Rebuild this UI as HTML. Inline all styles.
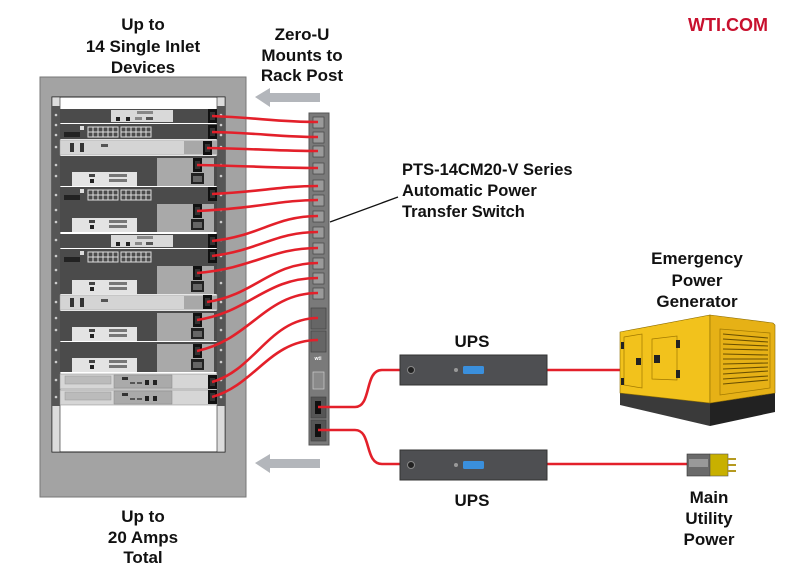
<!DOCTYPE html>
<html><head><meta charset="utf-8"><style>
html,body{margin:0;padding:0;background:#fff;width:800px;height:578px;overflow:hidden}
svg text{font-family:"Liberation Sans",Arial,sans-serif;font-weight:bold;fill:#111}
</style></head><body>
<svg width="800" height="578" viewBox="0 0 800 578" xmlns="http://www.w3.org/2000/svg">
<defs>
<g id="outs"><rect x="-4" y="-7" width="9" height="14" fill="#111"/><rect x="-2" y="-4" width="5" height="8" fill="#333"/></g>
<g id="dA"><rect x="60" y="0" width="157" height="14" fill="#4b4b4b"/><rect x="111" y="1" width="62" height="12" fill="#d9d9d9"/><rect x="116" y="8" width="4" height="4" fill="#222"/><rect x="126" y="8" width="4" height="4" fill="#222"/><rect x="135" y="8" width="7" height="3" fill="#888"/><rect x="146" y="8" width="7" height="3" fill="#555"/><rect x="137" y="2" width="16" height="3" fill="#888"/></g>
<g id="dS"><rect x="60" y="0" width="157" height="15" fill="#4b4b4b"/><rect x="64" y="8" width="16" height="5" fill="#222"/><rect x="80" y="2" width="4" height="4" fill="#ddd"/><g fill="none" stroke="#ddd" stroke-width="1"><rect x="88" y="3" width="30" height="10"/><rect x="121" y="3" width="30" height="10"/><path d="M88 8H118M121 8H151M93 3V13M98 3V13M103 3V13M108 3V13M113 3V13M126 3V13M131 3V13M136 3V13M141 3V13M146 3V13"/></g></g>
<g id="dL"><rect x="60" y="0" width="157" height="15" fill="#d4d4d4" stroke="#999" stroke-width="0.5"/><rect x="184" y="1" width="33" height="13" fill="#a8a8a8"/><rect x="70" y="3" width="4" height="9" fill="#333"/><rect x="80" y="3" width="4" height="9" fill="#333"/><rect x="101" y="4" width="7" height="3" fill="#555"/></g>
<g id="dD"><rect x="60" y="0" width="157" height="30" fill="#4b4b4b"/><rect x="157" y="2" width="57" height="28" fill="#a9a9a9"/><rect x="72" y="16" width="65" height="14" fill="#e3e3e3"/><rect x="89" y="18" width="6" height="3" fill="#444"/><rect x="90" y="23" width="4" height="4" fill="#222"/><rect x="109" y="18" width="18" height="3" fill="#777"/><rect x="109" y="23" width="18" height="3" fill="#777"/><rect x="191" y="17" width="13" height="11" fill="#222"/><rect x="193" y="20" width="9" height="6" fill="#666"/></g>
<g id="dG"><rect x="60" y="0" width="157" height="15" fill="#d6d6d6" stroke="#888" stroke-width="0.5"/><rect x="65" y="2" width="46" height="8" fill="#bbb" stroke="#999" stroke-width="0.5"/><rect x="114" y="1" width="58" height="13" fill="#aaa" stroke="#888" stroke-width="0.5"/><rect x="122" y="3" width="6" height="3" fill="#333"/><rect x="130" y="8" width="5" height="2" fill="#555"/><rect x="137" y="8" width="5" height="2" fill="#555"/><rect x="145" y="6" width="4" height="5" fill="#222"/><rect x="153" y="6" width="4" height="5" fill="#222"/></g>
</defs>

<text x="143" y="30" font-size="17" text-anchor="middle">Up to</text>
<text x="143" y="52" font-size="17" text-anchor="middle">14 Single Inlet</text>
<text x="143" y="73" font-size="17" text-anchor="middle">Devices</text>
<text x="302" y="40" font-size="17" text-anchor="middle">Zero-U</text>
<text x="302" y="61" font-size="17" text-anchor="middle">Mounts to</text>
<text x="302" y="81" font-size="17" text-anchor="middle">Rack Post</text>
<text x="728" y="31" font-size="18" text-anchor="middle" style="fill:#c8102e">WTI.COM</text>

<!-- rack -->
<rect x="40" y="77" width="206" height="420" fill="#a3a3a3" stroke="#777"/>
<rect x="52" y="97" width="173" height="355" fill="#fff" stroke="#222"/>
<rect x="52" y="97" width="8" height="355" fill="#dcdcdc" stroke="#222" stroke-width="0.6"/>
<rect x="217" y="97" width="8" height="355" fill="#dcdcdc" stroke="#222" stroke-width="0.6"/>
<rect x="52" y="106" width="8" height="300" fill="#555"/>
<rect x="217" y="106" width="8" height="300" fill="#555"/>
<g fill="#ccc"><circle cx="56" cy="115" r="1.3"/><circle cx="56" cy="125" r="1.3"/><circle cx="56" cy="135" r="1.3"/><circle cx="56" cy="147" r="1.3"/><circle cx="56" cy="165" r="1.3"/><circle cx="56" cy="176" r="1.3"/><circle cx="56" cy="195" r="1.3"/><circle cx="56" cy="210" r="1.3"/><circle cx="56" cy="222" r="1.3"/><circle cx="56" cy="240" r="1.3"/><circle cx="56" cy="256" r="1.3"/><circle cx="56" cy="270" r="1.3"/><circle cx="56" cy="283" r="1.3"/><circle cx="56" cy="302" r="1.3"/><circle cx="56" cy="318" r="1.3"/><circle cx="56" cy="330" r="1.3"/><circle cx="56" cy="350" r="1.3"/><circle cx="56" cy="362" r="1.3"/><circle cx="56" cy="380" r="1.3"/><circle cx="56" cy="397" r="1.3"/>
<circle cx="221" cy="115" r="1.3"/><circle cx="221" cy="125" r="1.3"/><circle cx="221" cy="135" r="1.3"/><circle cx="221" cy="147" r="1.3"/><circle cx="221" cy="165" r="1.3"/><circle cx="221" cy="176" r="1.3"/><circle cx="221" cy="195" r="1.3"/><circle cx="221" cy="210" r="1.3"/><circle cx="221" cy="222" r="1.3"/><circle cx="221" cy="240" r="1.3"/><circle cx="221" cy="256" r="1.3"/><circle cx="221" cy="270" r="1.3"/><circle cx="221" cy="283" r="1.3"/><circle cx="221" cy="302" r="1.3"/><circle cx="221" cy="318" r="1.3"/><circle cx="221" cy="330" r="1.3"/><circle cx="221" cy="350" r="1.3"/><circle cx="221" cy="362" r="1.3"/><circle cx="221" cy="380" r="1.3"/><circle cx="221" cy="397" r="1.3"/></g>

<use href="#dA" y="109"/>
<use href="#dS" y="124"/>
<use href="#dL" y="140"/>
<use href="#dD" y="156"/>
<use href="#dS" y="187"/>
<use href="#dD" y="202"/>
<use href="#dA" y="234"/>
<use href="#dS" y="249"/>
<use href="#dD" y="264"/>
<use href="#dL" y="295"/>
<use href="#dD" y="311"/>
<use href="#dD" y="342"/>
<use href="#dG" y="374"/>
<use href="#dG" y="390"/>
<use href="#outs" x="212" y="116"/>
<use href="#outs" x="212" y="132"/>
<use href="#outs" x="207" y="148"/>
<use href="#outs" x="197" y="165"/>
<use href="#outs" x="212" y="194"/>
<use href="#outs" x="197" y="211"/>
<use href="#outs" x="212" y="241"/>
<use href="#outs" x="212" y="256"/>
<use href="#outs" x="197" y="273"/>
<use href="#outs" x="207" y="302"/>
<use href="#outs" x="197" y="320"/>
<use href="#outs" x="197" y="351"/>
<use href="#outs" x="212" y="382"/>
<use href="#outs" x="212" y="397"/>

<!-- arrows -->
<path d="M255 97 L270 88 L270 93 L320 93 L320 102 L270 102 L270 107 Z" fill="#b3b6bb"/>
<path d="M255 463 L270 454 L270 459 L320 459 L320 468 L270 468 L270 473 Z" fill="#b3b6bb"/>

<!-- PDU -->
<rect x="309" y="113" width="20" height="332" fill="#7a7a7a" stroke="#555"/>
<g fill="#9a9a9a" stroke="#444" stroke-width="0.7">
<rect x="313" y="117" width="11" height="11"/><rect x="313" y="132" width="11" height="11"/><rect x="313" y="146" width="11" height="11"/><rect x="313" y="163" width="11" height="11"/><rect x="313" y="180" width="11" height="11"/><rect x="313" y="195" width="11" height="11"/><rect x="313" y="211" width="11" height="11"/><rect x="313" y="227" width="11" height="11"/><rect x="313" y="243" width="11" height="11"/><rect x="313" y="258" width="11" height="11"/><rect x="313" y="273" width="11" height="11"/><rect x="313" y="288" width="11" height="11"/>
<rect x="311" y="308" width="15" height="21" fill="#666"/><rect x="311" y="331" width="15" height="21" fill="#666"/>
<rect x="313" y="372" width="11" height="17" fill="#8a8a8a" stroke="#ccc"/>
<rect x="311" y="397" width="15" height="21" fill="#555"/><rect x="311" y="420" width="15" height="21" fill="#555"/></g>
<text x="318" y="360" font-size="5" text-anchor="middle" style="fill:#fff">wti</text>
<rect x="315" y="401" width="6" height="13" fill="#111"/><rect x="315" y="424" width="6" height="13" fill="#111"/>

<!-- cables to PDU -->
<g fill="none" stroke="#e3202a" stroke-width="2.6">
<path d="M212 116 C260 118 280 122 318 122"/>
<path d="M212 132 C260 133 280 137 318 137"/>
<path d="M207 148 C260 149 280 151 318 151"/>
<path d="M197 165 C250 166 280 168 318 168"/>
<path d="M212 194 C260 192 280 186 318 186"/>
<path d="M197 211 C260 208 280 200 318 200"/>
<path d="M212 241 C260 236 275 216 318 216"/>
<path d="M212 256 C260 250 275 232 318 232"/>
<path d="M197 273 C255 268 270 248 318 248"/>
<path d="M207 302 C255 295 270 263 318 263"/>
<path d="M197 320 C250 312 265 278 318 278"/>
<path d="M197 351 C250 340 265 293 318 293"/>
<path d="M212 382 C255 370 270 318 318 318"/>
<path d="M212 397 C255 385 270 340 318 340"/>
<path d="M318 407 L355 407 C372 407 364 370 382 370 L400 370"/>
<path d="M318 430 L355 430 C372 430 364 464 382 464 L400 464"/>
<path d="M546 370 L622 370"/>
<path d="M546 464 L688 464"/>
</g>

<!-- label PTS -->
<path d="M330 222 L398 197" stroke="#111" stroke-width="1.3"/>
<text x="402" y="175" font-size="16.5">PTS-14CM20-V Series</text>
<text x="402" y="196" font-size="16.5">Automatic Power</text>
<text x="402" y="217" font-size="16.5">Transfer Switch</text>

<!-- UPS -->
<text x="472" y="347" font-size="17" text-anchor="middle">UPS</text>
<text x="472" y="506" font-size="17" text-anchor="middle">UPS</text>
<g>
<rect x="400" y="355" width="147" height="30" fill="#4e4f52" stroke="#333"/>
<circle cx="411" cy="370" r="3.5" fill="#222" stroke="#888"/>
<circle cx="456" cy="370" r="2" fill="#999"/>
<rect x="463" y="366" width="21" height="8" rx="1.5" fill="#3a8fdc"/>
<rect x="400" y="450" width="147" height="30" fill="#4e4f52" stroke="#333"/>
<circle cx="411" cy="465" r="3.5" fill="#222" stroke="#888"/>
<circle cx="456" cy="465" r="2" fill="#999"/>
<rect x="463" y="461" width="21" height="8" rx="1.5" fill="#3a8fdc"/>
</g>

<!-- generator -->
<text x="697" y="264" font-size="17" text-anchor="middle">Emergency</text>
<text x="697" y="286" font-size="17" text-anchor="middle">Power</text>
<text x="697" y="307" font-size="17" text-anchor="middle">Generator</text>
<polygon points="620,393 710,403 710,426 620,405" fill="#3a3a3a"/>
<polygon points="710,403 775,393 775,412 710,426" fill="#222"/>
<polygon points="620,332 710,315 710,403 620,393" fill="#f2c21c" stroke="#8a6a00" stroke-width="0.6"/>
<polygon points="710,315 773,323 775,325 775,393 710,403" fill="#e6b116" stroke="#8a6a00" stroke-width="0.6"/>
<g fill="none" stroke="#a07800" stroke-width="0.7"><polygon points="624,337 642,334 642,388 624,385"/><polygon points="652,339 677,336 677,380 652,379"/><polygon points="720,329 770,333 770,388 720,395"/></g>
<g stroke="#6b5000" stroke-width="1.1"><path d="M723 334L768 338M723 339L768 342M723 344L768 346M723 349L768 350M723 354L768 355M723 359L768 359M723 364L768 363M723 369L768 367M723 374L768 371M723 379L768 376M723 384L768 380"/></g>
<g fill="#222"><rect x="621" y="342" width="3" height="7"/><rect x="621" y="378" width="3" height="7"/><rect x="636" y="358" width="5" height="7"/><rect x="654" y="355" width="6" height="8"/><rect x="676" y="340" width="4" height="8"/><rect x="676" y="370" width="4" height="8"/></g>

<!-- plug -->
<rect x="687" y="454" width="23" height="22" fill="#6a6a6a" stroke="#333" stroke-width="0.6"/>
<rect x="689" y="459" width="19" height="8" fill="#999"/>
<rect x="710" y="454" width="18" height="22" fill="#c8b000" stroke="#555" stroke-width="0.6"/>
<g stroke="#b59a20" stroke-width="2"><path d="M728 459H736M728 465H736M728 471H736"/></g>
<text x="709" y="503" font-size="17" text-anchor="middle">Main</text>
<text x="709" y="524" font-size="17" text-anchor="middle">Utility</text>
<text x="709" y="545" font-size="17" text-anchor="middle">Power</text>

<text x="143" y="522" font-size="17" text-anchor="middle">Up to</text>
<text x="143" y="543" font-size="17" text-anchor="middle">20 Amps</text>
<text x="143" y="563" font-size="17" text-anchor="middle">Total</text>
</svg>
</body></html>
